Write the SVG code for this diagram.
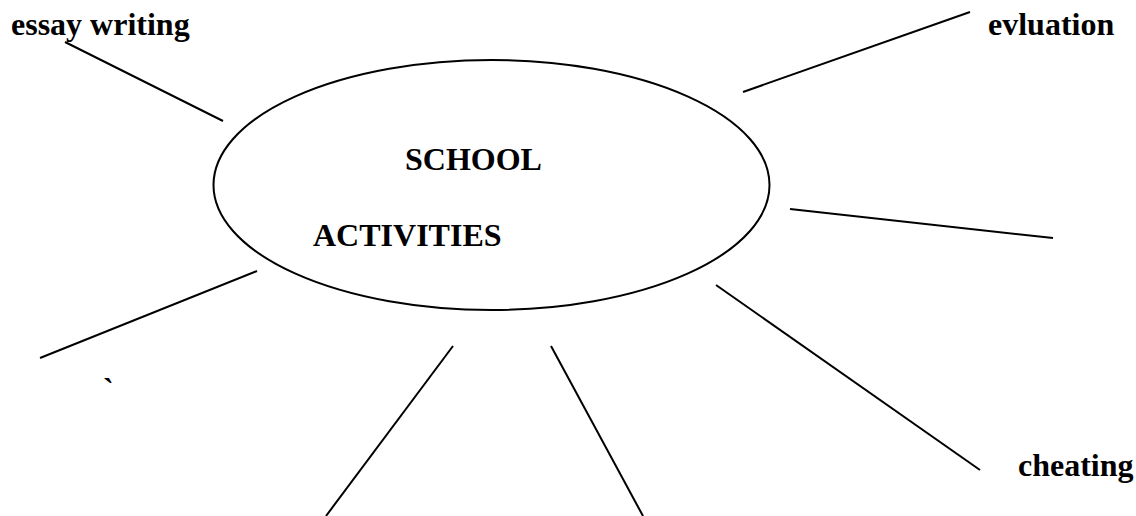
<svg xmlns="http://www.w3.org/2000/svg" width="1136" height="516" viewBox="0 0 1136 516">
<style>
.t{font-family:"Liberation Serif",serif;font-weight:bold;font-size:32px;fill:#000}
.c line{stroke:#000;stroke-width:2}
.n{fill:#fff;stroke:#000;stroke-width:2}
</style>
<rect width="1136" height="516" fill="#fff"/>
<g id="connectors" class="c">
<line x1="65" y1="42" x2="223" y2="121"/>
<line x1="743" y1="92" x2="970" y2="12"/>
<line x1="790" y1="209" x2="1053" y2="238"/>
<line x1="257" y1="271" x2="40" y2="358"/>
<line x1="453" y1="346" x2="326" y2="516"/>
<line x1="551" y1="346" x2="643" y2="516"/>
<line x1="716" y1="285" x2="980" y2="470"/>
</g>
<g id="center">
<ellipse class="n" cx="491.5" cy="185" rx="278" ry="125"/>
<text class="t" x="405" y="170">SCHOOL</text>
<text class="t" x="313" y="246">ACTIVITIES</text>
</g>
<g id="essay"><text class="t" x="11" y="35">essay writing</text></g>
<g id="evluation"><text class="t" x="988" y="35">evluation</text></g>
<g id="cheating"><text class="t" x="1018" y="476">cheating</text></g>
<g id="mark"><text class="t" x="103" y="400">`</text></g>
</svg>
